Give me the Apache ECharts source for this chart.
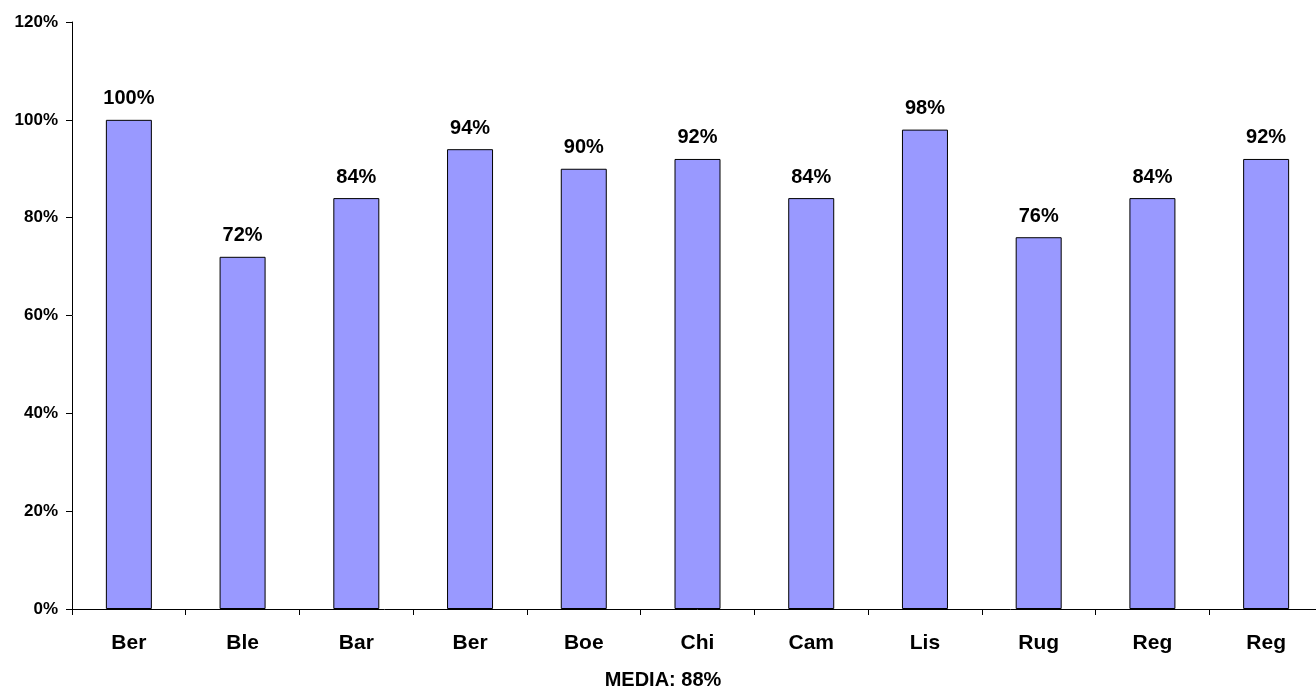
<!DOCTYPE html>
<html>
<head>
<meta charset="utf-8">
<script src="https://cdn.jsdelivr.net/npm/echarts@6/dist/echarts.min.js"></script>
<style>html,body{margin:0;padding:0;background:#fff;overflow:hidden;}#c{width:1323px;height:695px;}</style>
</head>
<body>
<div id="c"></div>
<script>
var categories = ['Ber', 'Ble', 'Bar', 'Ber', 'Boe', 'Chi', 'Cam', 'Lis', 'Rug', 'Reg', 'Reg'];
var values = [100, 72, 84, 94, 90, 92, 84, 98, 76, 84, 92];
var yTicks = [0, 20, 40, 60, 80, 100, 120];
var footer = 'MEDIA: 88%';

var chart = echarts.init(document.getElementById('c'));
var font = 'Liberation Sans, Arial, sans-serif';
chart.setOption({
  animation: false,
  backgroundColor: '#fff',
  title: {
    text: footer, left: 658, textAlign: 'center', top: 665,
    textStyle: { fontFamily: font, fontWeight: 'bold', fontSize: 20, color: '#000' }
  },
  grid: { left: 72, right: 0, top: 22, bottom: 86, containLabel: false },
  xAxis: {
    type: 'category',
    data: categories,
    axisLine: { lineStyle: { color: '#000', width: 1 } },
    axisTick: { show: true, length: 6, lineStyle: { color: '#000' } },
    axisLabel: { color: '#000', fontFamily: font, fontWeight: 'bold', fontSize: 21, margin: 24, interval: 0 }
  },
  yAxis: {
    type: 'value',
    min: yTicks[0], max: yTicks[yTicks.length - 1], interval: 20,
    splitLine: { show: false },
    axisLine: { show: true, lineStyle: { color: '#000', width: 1 } },
    axisTick: { show: true, length: 6, lineStyle: { color: '#000' } },
    axisLabel: { color: '#000', fontFamily: font, fontWeight: 'bold', fontSize: 17, margin: 14, formatter: '{value}%' }
  },
  series: [{
    type: 'bar',
    data: values,
    barWidth: 46,
    itemStyle: { color: '#9999FF', borderColor: '#000', borderWidth: 1 },
    label: {
      show: true, position: 'top', distance: 11,
      formatter: '{c}%', color: '#000',
      fontFamily: font, fontWeight: 'bold', fontSize: 20
    }
  }]
});
</script>
</body>
</html>
